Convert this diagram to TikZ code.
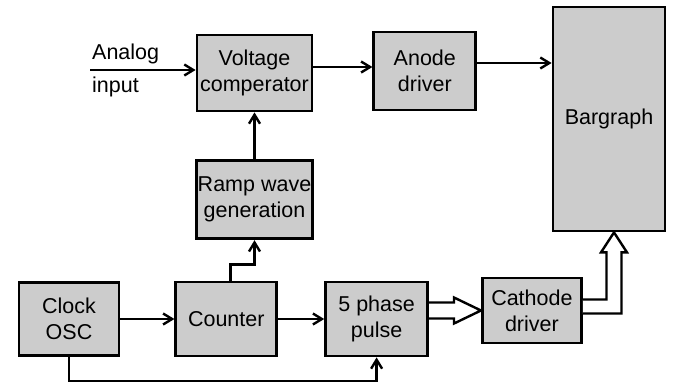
\documentclass[tikz,border=0pt]{standalone}
\usepackage{fontspec}
\setmainfont{Liberation Sans}
\usetikzlibrary{arrows.meta,positioning,calc}

\begin{document}
\begin{tikzpicture}[
  x=1pt, y=-1pt,
  box/.style={
    rectangle, draw=black, fill=black!20, line width=2.8pt,
    align=center, font=\fontsize{21.5}{26}\selectfont, inner sep=1pt
  },
  arr/.style={-{Straight Barb[length=9pt,width=11pt,line width=2.4pt]}, line width=2.4pt},
  hollow/.style={draw=black, fill=white, line width=2.4pt, line join=miter}
]
\useasboundingbox (0,0) rectangle (675,384);

% Top row
\node[box, minimum width=115pt, minimum height=76pt] (vc) at (254.5,73) {Voltage\\comperator};
\node[box, minimum width=102pt, minimum height=78pt, right=59pt of vc, yshift=2pt] (anode) {Anode\\driver};
\node[box, minimum width=112pt, minimum height=224pt] (bar) at (609,119) {Bargraph};
\node[box, minimum width=116pt, minimum height=78pt, below=47pt of vc] (ramp) {Ramp wave\\generation};

% Bottom row
\node[box, minimum width=100pt, minimum height=73pt] (clk) at (69,319) {Clock\\OSC};
\node[box, minimum width=101pt, minimum height=74pt, right=54pt of clk] (cnt) {Counter};
\node[box, minimum width=102pt, minimum height=74pt, right=46pt of cnt] (phase) {5 phase\\pulse};
\node[box, minimum width=99pt, minimum height=65pt, right=52pt of phase, yshift=8.5pt] (cath) {Cathode\\driver};

% Analog input
\coordinate (ain) at (90,70);
\node[anchor=west, align=left, font=\fontsize{21.5}{33}\selectfont, inner sep=0pt] (ainlbl) at (92,70) {Analog\\input};

% Arrows
\draw[arr] (ain) -- (ain -| vc.west);
\draw[arr] ([yshift=6pt]vc.east) -- ([yshift=6pt]vc.east -| anode.west);
\draw[arr] ([yshift=8pt]anode.east) -- ([yshift=8pt]anode.east -| bar.west);
\draw[arr] (ramp.north) -- (vc.south);
\draw[arr] ([xshift=4pt]cnt.north) -- ++(0,-16) -| (ramp.south);
\draw[arr] (clk.east) -- (cnt.west);
\draw[arr] (cnt.east) -- (phase.west);
\draw[arr] (clk.south) -- ++(0,24) -| (phase.south);

% Hollow bus arrows
\coordinate (ptip) at (cath.west);
\draw[hollow] ($(phase.east |- ptip)+(0,-8)$) -- ++(25,0) -- ++(0,-5) -- (ptip)
  -- ++(-27,13) -- ++(0,-5) -- ($(phase.east |- ptip)+(0,8)$);
\coordinate (btip) at ([xshift=5pt]bar.south);
\draw[hollow] ([yshift=11pt]cath.east) -| ($(btip)+(-7.5,20)$) -- ++(-5.5,0) -- (btip)
  -- ($(btip)+(13,20)$) -- ++(-5.5,0) |- ([yshift=-3pt]cath.east);
\end{tikzpicture}
\end{document}
